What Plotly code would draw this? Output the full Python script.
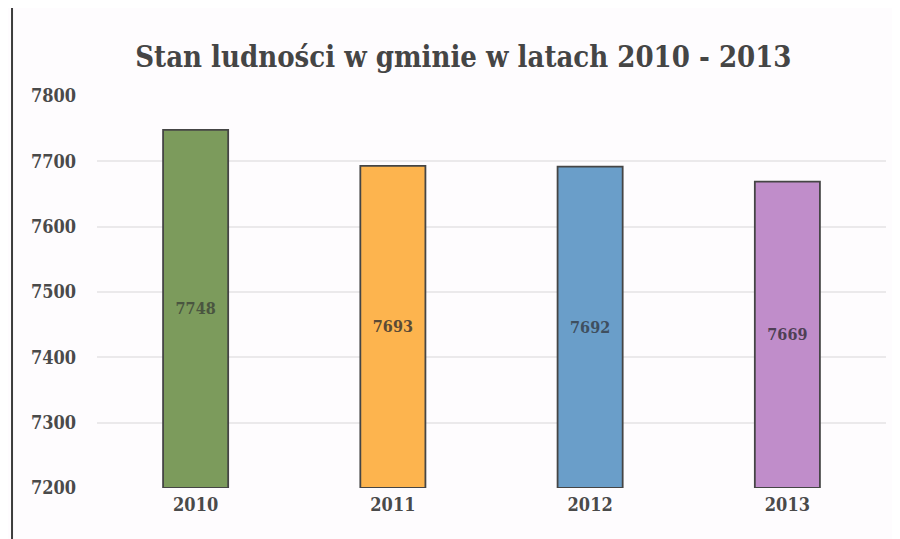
import plotly.graph_objects as go

years = ["2010", "2011", "2012", "2013"]
population = [7748, 7693, 7692, 7669]
bar_colors = ["#7c9b5c", "#fdb44e", "#6a9ec9", "#c08dca"]
label_colors = ["#4a5540", "#5a4a35", "#3f4f5f", "#4f3f55"]
y_ticks = [7200, 7300, 7400, 7500, 7600, 7700, 7800]
base_value = 7200

FONT = "DejaVu Serif Condensed, DejaVu Serif, serif"

fig = go.Figure(
    go.Bar(
        x=years,
        y=[v - base_value for v in population],
        base=base_value,
        marker=dict(color=bar_colors, line=dict(color="#454545", width=1.8)),
        width=0.33,
        text=[str(v) for v in population],
        textposition="inside",
        insidetextanchor="middle",
        textfont=dict(family=FONT, size=16, color=label_colors, weight="bold"),
    )
)

fig.update_layout(
    width=900,
    height=539,
    margin=dict(l=89, r=22, t=88, b=59),
    paper_bgcolor="#fefcfe",
    plot_bgcolor="#fefcfe",
    showlegend=False,
    title=dict(
        text="<b>Stan ludności w gminie w latach 2010 - 2013</b>",
        x=0.506,
        xanchor="center",
        y=0.909,
        yanchor="middle",
        font=dict(family=FONT, size=29, color="#454545"),
    ),
    xaxis=dict(
        showgrid=False,
        showline=False,
        ticks="",
        ticklabelstandoff=4,
        tickfont=dict(family=FONT, size=18, color="#4a4a4a", weight="bold"),
    ),
    yaxis=dict(
        range=[7200, 7800],
        tickvals=y_ticks,
        ticktext=[str(t) for t in y_ticks],
        showgrid=True,
        gridcolor="#ebe9eb",
        gridwidth=1.5,
        zeroline=False,
        showline=False,
        ticks="",
        ticklabelstandoff=20,
        tickfont=dict(family=FONT, size=18, color="#4a4a4a", weight="bold"),
    ),
    shapes=[
        dict(
            type="line",
            xref="paper",
            yref="paper",
            x0=-0.1077,
            x1=-0.1077,
            y0=-0.25,
            y1=1.35,
            line=dict(color="#3d3d3d", width=2),
        )
    ],
)

fig.write_html("out.html")
